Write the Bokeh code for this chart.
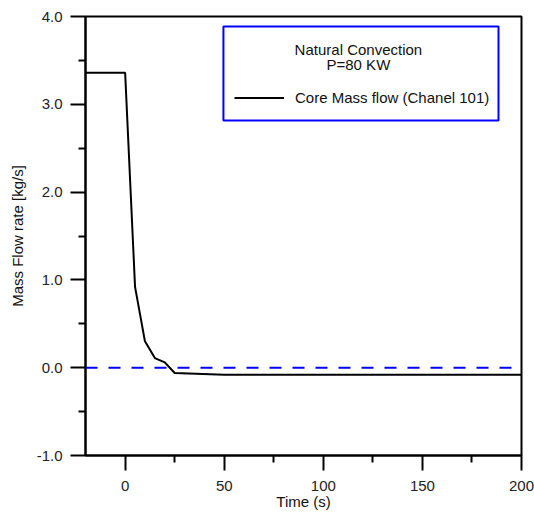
from bokeh.plotting import figure
from bokeh.models import (FixedTicker, Span, Label, BoxAnnotation, Legend,
                          LegendItem, NumeralTickFormatter)
from bokeh.embed import file_html
from bokeh.resources import INLINE

# ---- data ----
time_s = [-20, 0, 5, 10, 15, 20, 25, 50, 100, 150, 200]
core_flow = [3.36, 3.36, 0.92, 0.30, 0.11, 0.06, -0.06, -0.08, -0.08, -0.08, -0.08]
x_major = [0, 50, 100, 150, 200]
x_minor = [25, 75, 125, 175]
y_major = [-1, 0, 1, 2, 3, 4]
y_minor = [-0.5, 0.5, 1.5, 2.5, 3.5]
zero_level = 0.0
series_label = "Core Mass flow (Chanel 101)"
box_title_1 = "Natural Convection"
box_title_2 = "P=80 KW"

FONT = "Liberation Sans"
FS = "15px"

p = figure(width=534, height=513, x_range=(-20, 200), y_range=(-1, 4),
           output_backend="svg", toolbar_location=None,
           min_border_left=85, min_border_top=16, min_border_right=13,
           min_border_bottom=58)
p.xgrid.visible = False
p.ygrid.visible = False
p.outline_line_color = "black"
p.outline_line_width = 2
p.background_fill_color = "white"
p.border_fill_color = "white"

for ax in (p.xaxis[0], p.yaxis[0]):
    ax.axis_line_width = 2
    ax.axis_line_color = "black"
    ax.major_tick_out = 15
    ax.major_tick_in = 0
    ax.minor_tick_out = 7
    ax.minor_tick_in = 0
    ax.major_tick_line_width = 2
    ax.minor_tick_line_width = 2
    ax.major_tick_line_color = "black"
    ax.minor_tick_line_color = "black"
    ax.major_label_text_font = FONT
    ax.major_label_text_font_size = FS
    ax.major_label_text_color = "#222222"
    ax.axis_label_text_font = FONT
    ax.axis_label_text_font_size = FS
    ax.axis_label_text_font_style = "normal"
    ax.axis_label_text_color = "#111111"

p.xaxis.ticker = FixedTicker(ticks=x_major, minor_ticks=x_minor)
p.yaxis.ticker = FixedTicker(ticks=y_major, minor_ticks=y_minor)
p.yaxis.formatter = NumeralTickFormatter(format="0.0")
p.xaxis.axis_label = "Time (s)"
p.yaxis.axis_label = "Mass Flow rate [kg/s]"
p.xaxis.major_label_standoff = 10
p.yaxis.major_label_standoff = 8
p.xaxis.axis_label_standoff = -1
p.yaxis.axis_label_standoff = 8

p.add_layout(Span(location=zero_level, dimension="width", line_color="blue",
                  line_dash="12 11", line_width=2))

r = p.line(time_s, core_flow, line_color="black", line_width=2)

p.add_layout(BoxAnnotation(left=49.6, right=188.4, top=3.886, bottom=2.816,
                           fill_color=None, fill_alpha=0,
                           line_color="blue", line_width=2, line_alpha=1))

p.add_layout(Label(x=117.7, y=3.624, text=box_title_1, text_align="center",
                   text_baseline="middle", text_font=FONT, text_font_size=FS,
                   text_color="#111111"))
p.add_layout(Label(x=117.7, y=3.453, text=box_title_2, text_align="center",
                   text_baseline="middle", text_font=FONT, text_font_size=FS,
                   text_color="#111111"))

legend = Legend(items=[LegendItem(label=series_label, renderers=[r])],
                location=(149, 349), padding=0, margin=0, spacing=0,
                glyph_width=50, glyph_height=17, label_height=17,
                label_standoff=11, label_text_font=FONT,
                label_text_font_size=FS, label_text_color="#111111",
                border_line_alpha=0, background_fill_alpha=0)
p.add_layout(legend)

open("out.html", "w").write(file_html(p, INLINE))
